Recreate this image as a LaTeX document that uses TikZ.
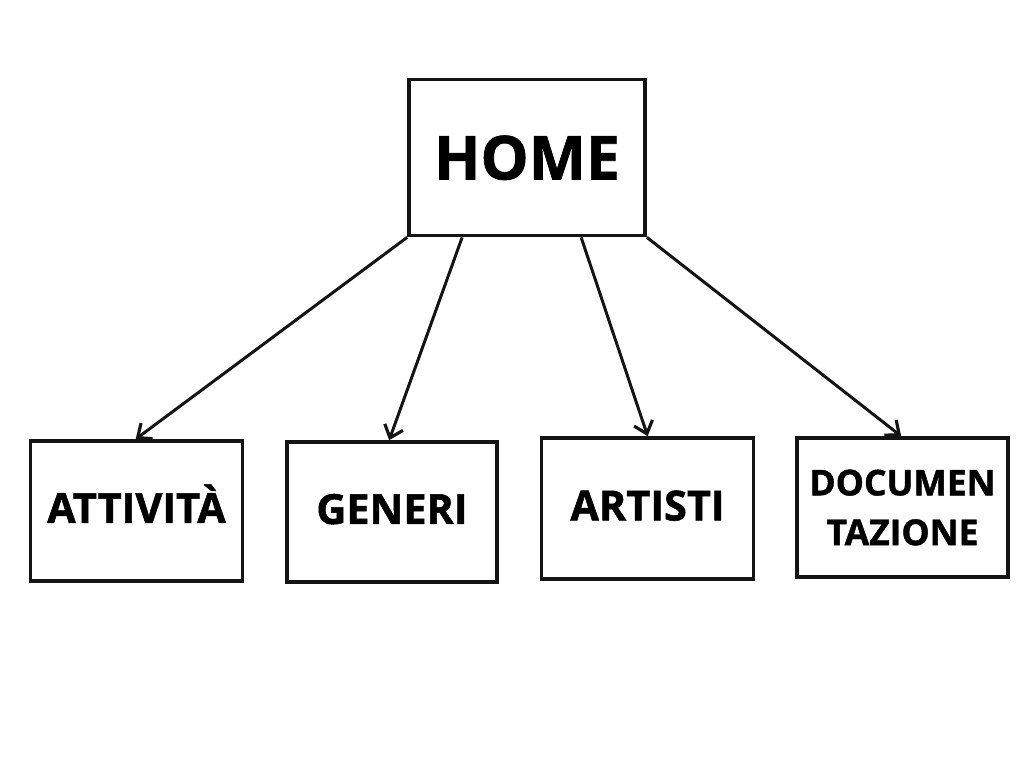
\documentclass[tikz,border=0pt]{standalone}
\usepackage{fontspec}
\setmainfont{Open Sans}[BoldFeatures={FakeBold=1.2}]
\usetikzlibrary{arrows.meta,calc}

\tikzset{
    pagina/.style={draw=black!92, line width=2.1pt, font=\bfseries\fontsize{23.6}{28}\selectfont,
        text height=17pt, text depth=3.4pt,
        minimum width=212*0.02cm, minimum height=140*0.02cm, align=center, inner sep=0pt},
    freccia/.style={-{Straight Barb[length=6.5pt,width=11pt,line width=1.8pt]}, line width=1.7pt, black!92}
}

\begin{document}
\begin{tikzpicture}[x=0.02cm,y=-0.02cm]
        \useasboundingbox (0,0) rectangle (1024,768);

        % Pagina principale.
        \node[pagina, minimum width=236*0.02cm, minimum height=156*0.02cm, text height=25pt, text depth=0pt,
              font=\bfseries\fontsize{34.5}{40}\selectfont] (home) at (527,157.5) {HOME};

        % Sezioni del sito.
        \node[pagina] (attivita) at (136.5,511) {ATTIVITÀ};
        \node[pagina, minimum width=210*0.02cm] (generi) at (392,512) {GENERI};
        \node[pagina, minimum height=141*0.02cm] (artisti) at (647.5,508.5) {ARTISTI};
        \node[pagina, minimum width=211*0.02cm, minimum height=139*0.02cm, text height=, text depth=,
              font=\bfseries\fontsize{20.2}{28.3}\selectfont] (doc) at (902.5,507.5) {DOCUMEN\\TAZIONE};

        % Collegamenti dalla home alle sezioni.
        \draw[freccia] (home.south west) -- ($(attivita.north west)+(107,0)$);
        \draw[freccia] ($(home.south west)+(55,0)$) -- ($(generi.north west)+(104,0)$);
        \draw[freccia] ($(home.south west)+(174,0)$) -- ($(artisti.north west)+(108,0)$);
        \draw[freccia] (home.south east) -- ($(doc.north west)+(106,0)$);
    \end{tikzpicture}
\end{document}
